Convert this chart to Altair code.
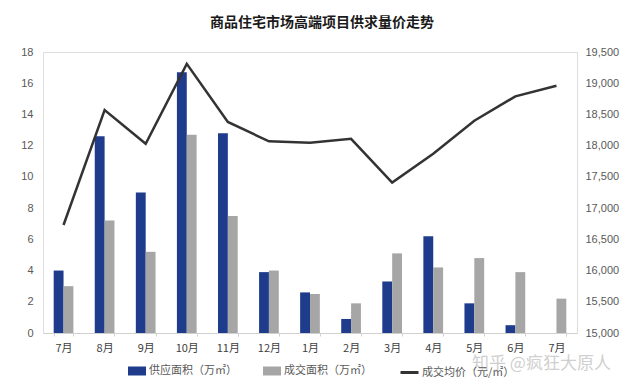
import altair as alt
import pandas as pd

months = ["7月", "8月", "9月", "10月", "11月", "12月", "1月", "2月", "3月", "4月", "5月", "6月", "7月"]
supply = [4.0, 12.6, 9.0, 16.7, 12.8, 3.9, 2.6, 0.9, 3.3, 6.2, 1.9, 0.5, 0.0]
deal = [3.0, 7.2, 5.2, 12.7, 7.5, 4.0, 2.5, 1.9, 5.1, 4.2, 4.8, 3.9, 2.2]
price = [16730, 18570, 18030, 19310, 18380, 18070, 18045, 18110, 17410, 17870, 18400, 18790, 18960]

s_supply = "供应面积（万㎡）"
s_deal = "成交面积（万㎡）"
s_price = "成交均价（元/㎡）"
title_text = "商品住宅市场高端项目供求量价走势"
watermark = "知乎 @疯狂大原人"

FONT = "Noto Sans CJK SC"

rows = []
for i, m in enumerate(months):
    rows.append({"idx": i, "series": s_supply, "value": supply[i]})
    rows.append({"idx": i, "series": s_deal, "value": deal[i]})
bars_df = pd.DataFrame(rows)
line_df = pd.DataFrame({"idx": list(range(len(months))), "price": price, "name": [s_price] * len(months)})
wm_df = pd.DataFrame({"t": [watermark]})

label_expr = "[" + ",".join("'" + m + "'" for m in months) + "][datum.value]"

x_enc = alt.X(
    "idx:O",
    title=None,
    scale=alt.Scale(paddingInner=0.52, paddingOuter=0.26),
    axis=alt.Axis(
        labelExpr=label_expr,
        labelAngle=0,
        labelFont=FONT,
        labelFontSize=11,
        labelColor="#404040",
        labelPadding=6,
        domainColor="#D0D0D0",
        tickColor="#D0D0D0",
        tickSize=3,
        tickBand="extent",
        grid=False,
    ),
)

bars = alt.Chart(bars_df).mark_bar().encode(
    x=x_enc,
    xOffset=alt.XOffset("series:N", sort=[s_supply, s_deal], scale=alt.Scale(domain=[s_supply, s_deal])),
    y=alt.Y(
        "value:Q",
        title=None,
        scale=alt.Scale(domain=[0, 18], nice=False),
        axis=alt.Axis(
            values=list(range(0, 19, 2)),
            grid=False,
            domain=False,
            ticks=False,
            labelFont="Liberation Sans",
            labelFontSize=11,
            labelColor="#595959",
            labelPadding=10,
        ),
    ),
    color=alt.Color(
        "series:N",
        scale=alt.Scale(domain=[s_supply, s_deal], range=["#1F3C8C", "#A6A6A6"]),
        legend=alt.Legend(
            title=None,
            orient="none",
            legendX=85,
            legendY=310,
            direction="horizontal",
            columns=2,
            columnPadding=26,
            symbolType="M-1,-0.5H1V0.5H-1Z",
            symbolSize=324,
            symbolStrokeWidth=0,
            symbolOffset=0,
            labelOffset=3,
            labelFont=FONT,
            labelFontSize=11,
            labelColor="#595959",
        ),
    ),
)

line = alt.Chart(line_df).mark_line(strokeWidth=2.5).encode(
    x=alt.X("idx:O"),
    y=alt.Y(
        "price:Q",
        title=None,
        scale=alt.Scale(domain=[15000, 19500], nice=False),
        axis=alt.Axis(
            orient="right",
            values=list(range(15000, 19501, 500)),
            labelExpr="format(datum.value, ',.0f')",
            grid=False,
            domain=False,
            ticks=False,
            labelFont="Liberation Sans",
            labelFontSize=11,
            labelColor="#595959",
            labelPadding=8,
        ),
    ),
    stroke=alt.Stroke(
        "name:N",
        scale=alt.Scale(domain=[s_price], range=["#333333"]),
        legend=alt.Legend(
            title=None,
            orient="none",
            legendX=356,
            legendY=310,
            symbolType="stroke",
            symbolSize=324,
            symbolStrokeWidth=3,
            labelOffset=2,
            labelFont=FONT,
            labelFontSize=11,
            labelColor="#595959",
        ),
    ),
)

wm = alt.Chart(wm_df).mark_text(
    font=FONT, fontSize=17, color="#CFCFCF", align="left", baseline="middle"
).encode(x=alt.value(429), y=alt.value(312), text="t:N")

chart = (
    alt.layer(bars, line, wm)
    .resolve_scale(y="independent", color="independent")
    .properties(
        width=534,
        height=281,
        padding={"left": 43, "top": 52, "right": 63, "bottom": 53},
        autosize=alt.AutoSizeParams(type="none"),
        title=alt.TitleParams(
            title_text, font=FONT, fontSize=14, fontWeight="bold", color="#1A1A1A",
            anchor="middle", dx=12, offset=16,
        ),
    )
    .configure_view(stroke=None)
    .configure(background="white")
)

chart.save("out.html", embed_options={"renderer": "svg", "actions": False})
